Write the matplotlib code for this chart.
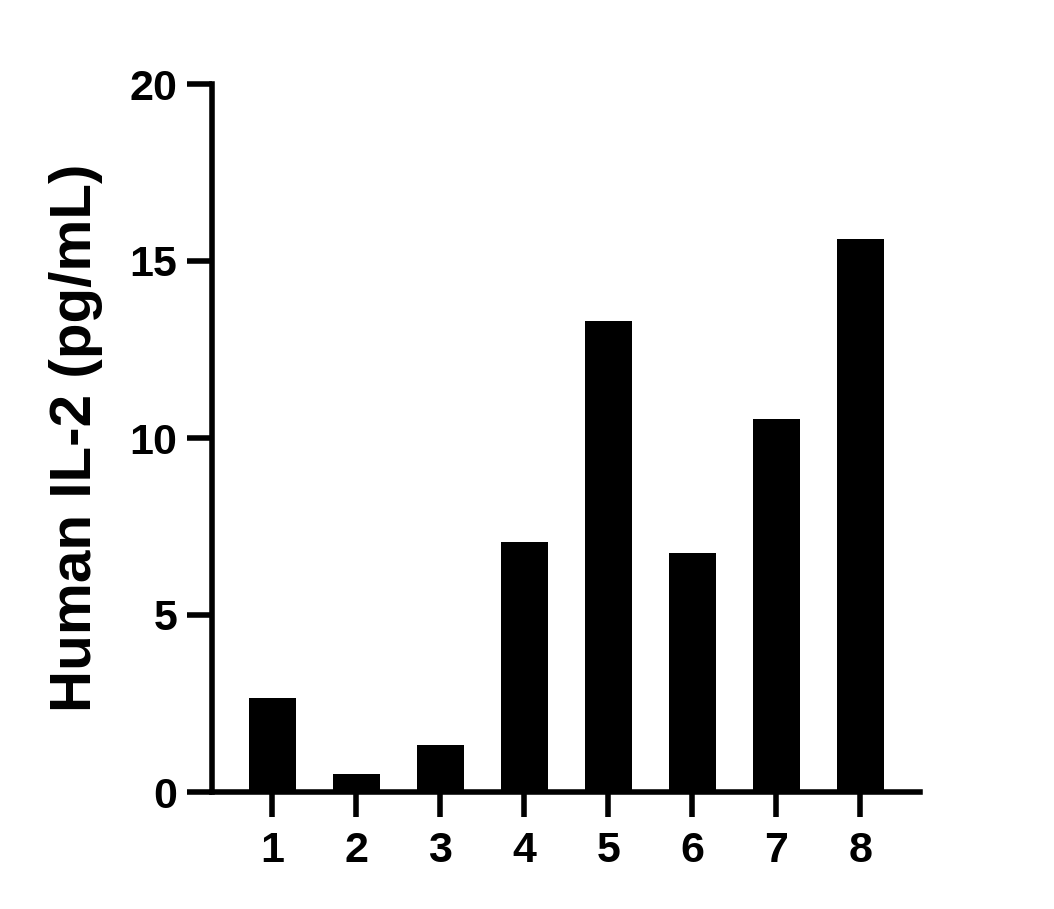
import matplotlib
matplotlib.use("Agg")
import matplotlib.pyplot as plt

categories = ["1", "2", "3", "4", "5", "6", "7", "8"]
values = [2.66, 0.51, 1.33, 7.06, 13.3, 6.75, 10.54, 15.62]
yticks = [0, 5, 10, 15, 20]
ylabel = "Human IL-2 (pg/mL)"

plt.rcParams['font.family'] = ['Liberation Sans', 'DejaVu Sans']
plt.rcParams['font.weight'] = 'bold'

fig = plt.figure(figsize=(10.54, 9.09), dpi=100)
ax = fig.add_axes([212/1054, 1 - 792/909, (920-212)/1054, (792-84)/909])

x = list(range(1, len(categories) + 1))
ax.bar(x, values, width=0.56, color="black", edgecolor="none")

ax.set_xlim(0.28, 8.71)
ax.set_ylim(0, 20)
ax.set_xticks(x)
ax.set_xticklabels(categories)
ax.set_yticks(yticks)
ax.set_yticklabels([str(t) for t in yticks])

for s in ["top", "right"]:
    ax.spines[s].set_visible(False)
for s in ["left", "bottom"]:
    ax.spines[s].set_linewidth(4)
    ax.spines[s].set_capstyle('projecting')

ax.tick_params(axis='both', length=18, width=4, labelsize=31, color='black')
ax.tick_params(axis='y', pad=7)
ax.tick_params(axis='x', pad=10)
for lab in ax.get_xticklabels() + ax.get_yticklabels():
    lab.set_fontweight('bold')

ax.set_ylabel(ylabel, fontsize=42, fontweight='bold', labelpad=19)

fig.savefig("out.png", dpi=100, facecolor="white")
